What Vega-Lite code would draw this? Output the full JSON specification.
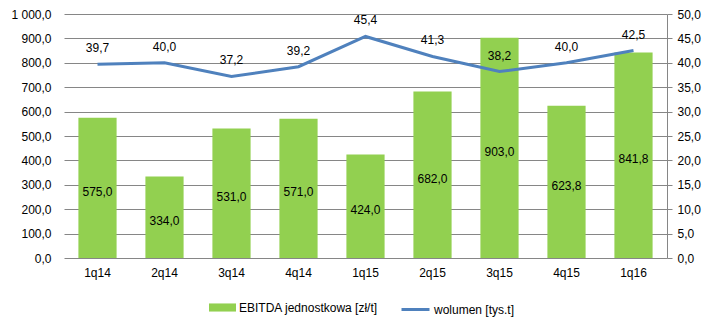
{
  "$schema": "https://vega.github.io/schema/vega-lite/v6.json",
  "width": 603,
  "height": 244,
  "padding": {"left": 10, "top": 8, "right": 10, "bottom": 10},
  "background": "white",
  "data": {
    "values": [
      {"q": "1q14", "ebitda": 575.0, "wol": 39.7},
      {"q": "2q14", "ebitda": 334.0, "wol": 40.0},
      {"q": "3q14", "ebitda": 531.0, "wol": 37.2},
      {"q": "4q14", "ebitda": 571.0, "wol": 39.2},
      {"q": "1q15", "ebitda": 424.0, "wol": 45.4},
      {"q": "2q15", "ebitda": 682.0, "wol": 41.3},
      {"q": "3q15", "ebitda": 903.0, "wol": 38.2},
      {"q": "4q15", "ebitda": 623.8, "wol": 40.0},
      {"q": "1q16", "ebitda": 841.8, "wol": 42.5}
    ]
  },
  "encoding": {
    "x": {
      "field": "q", "type": "nominal", "sort": null,
      "scale": {"paddingInner": 0.43, "paddingOuter": 0.215},
      "axis": {"title": null, "labelAngle": 0, "domain": false, "ticks": false, "labelPadding": 9, "grid": false}
    }
  },
  "layer": [
    {
      "mark": {"type": "bar", "color": "#92D050"},
      "encoding": {
        "y": {
          "field": "ebitda", "type": "quantitative",
          "scale": {"domain": [0, 1000], "nice": false},
          "axis": {"title": null, "orient": "left", "values": [0,100,200,300,400,500,600,700,800,900,1000], "format": ",.1f", "domain": false, "ticks": false, "labelPadding": 13, "grid": true, "gridColor": "#868686", "gridWidth": 1}
        },
        "fill": {
          "datum": "EBITDA jednostkowa [zł/t]",
          "scale": {"range": ["#92D050"]},
          "legend": {"title": null, "orient": "none", "legendX": 145, "legendY": 280, "symbolType": "M-1,-0.3H1V0.3H-1Z", "symbolSize": 729, "symbolStrokeWidth": 0}
        }
      }
    },
    {
      "mark": {"type": "text", "fontSize": 12, "color": "black", "dy": 4},
      "encoding": {
        "y": {"field": "ebitda", "type": "quantitative", "scale": {"domain": [0, 2000], "nice": false}, "axis": null},
        "text": {"field": "ebitda", "type": "quantitative", "format": ".1f"}
      }
    },
    {
      "encoding": {
        "y": {
          "field": "wol", "type": "quantitative",
          "scale": {"domain": [0, 50], "nice": false},
          "axis": {"title": null, "orient": "right", "values": [0,5,10,15,20,25,30,35,40,45,50], "format": ".1f", "domain": true, "domainColor": "#868686", "ticks": true, "tickColor": "#868686", "tickSize": 5, "labelPadding": 5, "grid": false}
        }
      },
      "layer": [
        {
          "mark": {"type": "line", "color": "#4F81BD", "strokeWidth": 3},
          "encoding": {
            "stroke": {
              "datum": "wolumen [tys.t]",
              "scale": {"range": ["#4F81BD"]},
              "legend": {"title": null, "orient": "none", "legendX": 336, "legendY": 280, "symbolType": "stroke", "symbolStrokeWidth": 3, "symbolSize": 784}
            }
          }
        },
        {
          "mark": {"type": "text", "fontSize": 12, "color": "black", "baseline": "bottom", "dy": -9},
          "encoding": {
            "text": {"field": "wol", "type": "quantitative", "format": ".1f"}
          }
        }
      ]
    }
  ],
  "resolve": {"scale": {"y": "independent"}},
  "config": {
    "locale": {"number": {"decimal": ",", "thousands": " ", "grouping": [3], "currency": ["", " zł"]}},
    "font": "Liberation Sans",
    "view": {"stroke": null},
    "axis": {"labelFontSize": 12, "labelColor": "black", "labelFont": "Liberation Sans"},
    "legend": {"labelFontSize": 12, "labelColor": "black", "labelFont": "Liberation Sans", "labelOffset": 3, "padding": 0}
  }
}
